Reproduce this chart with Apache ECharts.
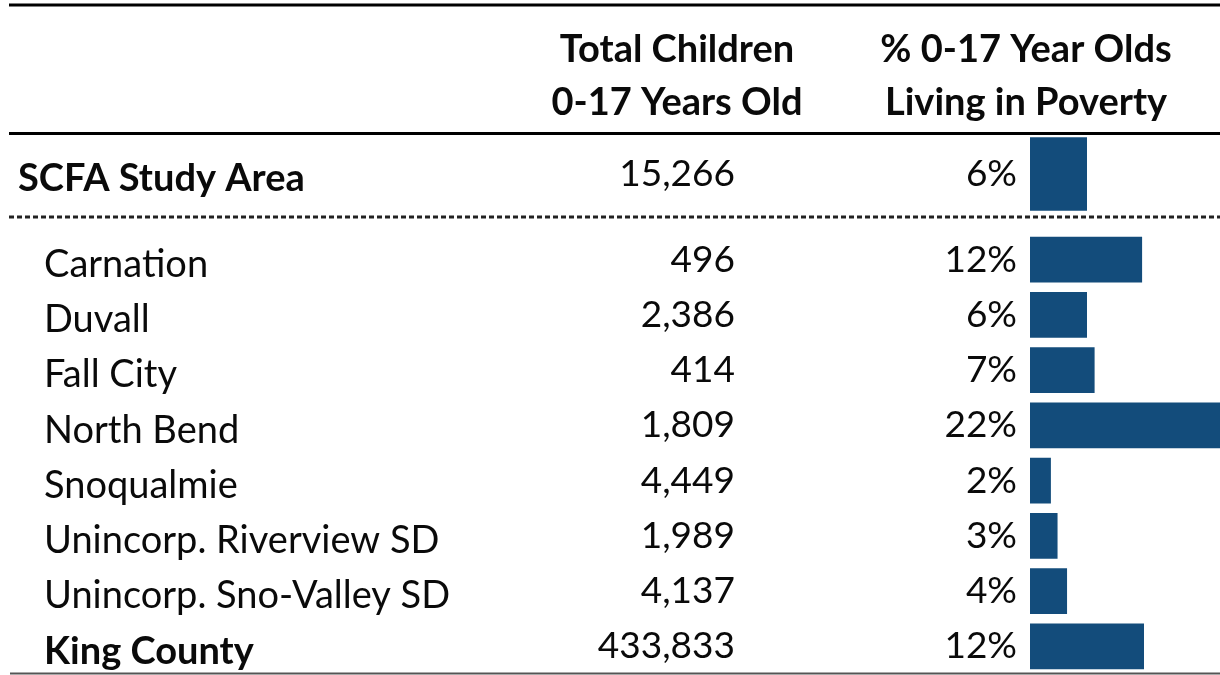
<!DOCTYPE html>
<html>
<head>
<meta charset="utf-8">
<script src="https://cdn.jsdelivr.net/npm/echarts@6/dist/echarts.min.js"></script>
<style>
  html, body { margin: 0; padding: 0; background: #fff; }
  #chart { width: 1220px; height: 675px; }
</style>
</head>
<body>
<div id="chart"></div>
<script>
// study area summary row
var areaName = ['SCFA Study Area'];
var areaChildren = [15266];
var areaPoverty = [6.0];

// communities below the dotted line
var places = ['Carnation', 'Duvall', 'Fall City', 'North Bend', 'Snoqualmie',
  'Unincorp. Riverview SD', 'Unincorp. Sno-Valley SD', 'King County'];
var children = [496, 2386, 414, 1809, 4449, 1989, 4137, 433833];
var poverty = [11.8, 6.0, 6.8, 22, 2.2, 2.9, 3.9, 12.0];

// column headers
var headChildren = ['Total Children', '0-17 Years Old'];
var headPoverty = ['% 0-17 Year Olds', 'Living in Poverty'];

var FONT = 'Lato';
var SIZE = 37;
var NAME_SIZE = 38;
var INK = '#0a0a0a';
var barColor = '#134c7b';
var fmt = function (n) { return n.toLocaleString('en-US'); };
var pct = function (v) { return Math.round(v) + '%'; };

var chart = echarts.init(document.getElementById('chart'));

function nameAxis(grid, data, margin, boldLast, boldAll) {
  return {
    type: 'category', gridIndex: grid, data: data, inverse: true, position: 'left',
    axisLine: { show: false }, axisTick: { show: false }, splitLine: { show: false },
    axisLabel: {
      margin: margin, align: 'left', color: INK, fontFamily: FONT, fontSize: NAME_SIZE,
      fontWeight: boldAll ? 'bold' : 'normal', padding: [10, 0, 0, 0],
      formatter: function (v, i) {
        return (boldLast && i === data.length - 1) ? '{b|' + v + '}' : v;
      },
      rich: { b: { fontFamily: FONT, fontSize: NAME_SIZE, fontWeight: 'bold', color: INK } }
    }
  };
}

function countAxis(grid, data, values) {
  return {
    type: 'category', gridIndex: grid, data: data, inverse: true, position: 'left',
    axisLine: { show: false }, axisTick: { show: false }, splitLine: { show: false },
    axisLabel: {
      margin: 295, align: 'right', color: INK, fontFamily: FONT, fontSize: SIZE,
      padding: [10, 0, 0, 0],
      formatter: function (v, i) { return fmt(values[i]); }
    }
  };
}

function barSeries(x, y, values, gap) {
  return {
    type: 'bar', xAxisIndex: x, yAxisIndex: y, data: values,
    barCategoryGap: gap, itemStyle: { color: barColor },
    label: {
      show: true, position: 'left', distance: 13, color: INK,
      fontFamily: FONT, fontSize: SIZE, padding: [10, 0, 0, 0],
      formatter: function (p) { return pct(p.value); }
    }
  };
}

chart.setOption({
  animation: false,
  grid: [
    { left: 1030, right: 0, top: 136, height: 76, outerBoundsMode: 'none' },
    { left: 1030, right: 0, top: 232, height: 442, outerBoundsMode: 'none' }
  ],
  xAxis: [
    { type: 'value', gridIndex: 0, min: 0, max: 20, show: false },
    { type: 'value', gridIndex: 1, min: 0, max: 20, show: false }
  ],
  yAxis: [
    nameAxis(0, areaName, 1012, false, true),
    countAxis(0, areaName, areaChildren),
    nameAxis(1, places, 986, true, false),
    countAxis(1, places, children)
  ],
  series: [
    barSeries(0, 0, areaPoverty, '3%'),
    barSeries(1, 2, poverty, '17%')
  ],
  graphic: [
    { type: 'line', shape: { x1: 9, y1: 5, x2: 1220, y2: 5 }, style: { stroke: '#000', lineWidth: 3 } },
    { type: 'line', shape: { x1: 9, y1: 133.5, x2: 1220, y2: 133.5 }, style: { stroke: '#000', lineWidth: 3 } },
    { type: 'line', shape: { x1: 9, y1: 217, x2: 1220, y2: 217 }, style: { stroke: '#222', lineWidth: 3, lineDash: [5, 3] } },
    { type: 'line', shape: { x1: 10, y1: 673.5, x2: 1220, y2: 673.5 }, style: { stroke: '#555', lineWidth: 2 } },
    { type: 'text', x: 677, y: 76, style: { text: headChildren.join('\n'), fill: INK,
      font: 'bold 38px ' + FONT, textAlign: 'center', textVerticalAlign: 'middle', lineHeight: 53 } },
    { type: 'text', x: 1026, y: 76, style: { text: headPoverty.join('\n'), fill: INK,
      font: 'bold 38px ' + FONT, textAlign: 'center', textVerticalAlign: 'middle', lineHeight: 53 } }
  ]
});
</script>
</body>
</html>
